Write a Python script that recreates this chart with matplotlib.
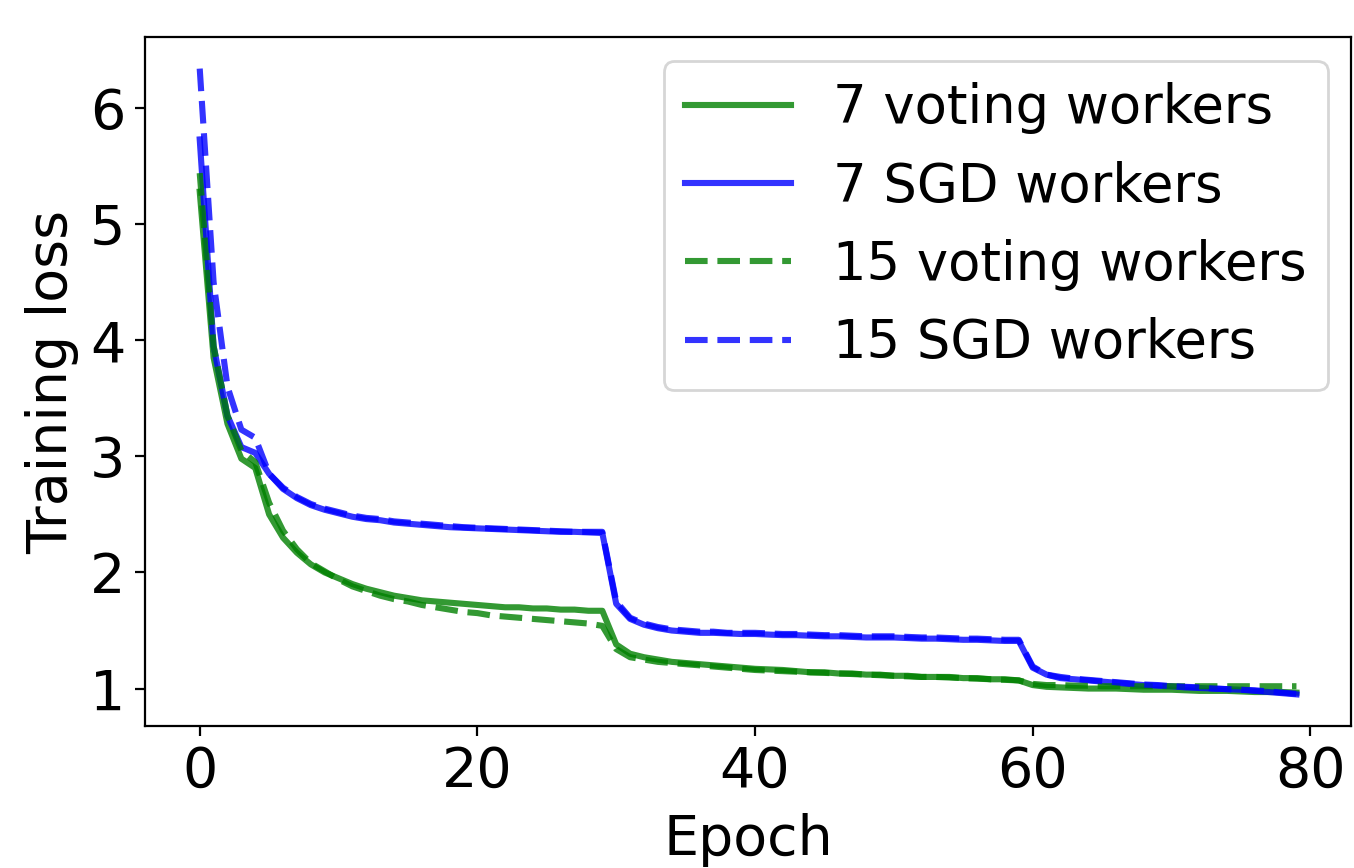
import numpy as np
import matplotlib
matplotlib.use("Agg")
import matplotlib.pyplot as plt

epochs = np.arange(80)

# 7 workers, signSGD with majority vote
vote7 = [5.28, 3.85, 3.28, 2.98, 2.90, 2.50, 2.30, 2.17, 2.07, 2.00,
         1.95, 1.90, 1.86, 1.83, 1.80, 1.78, 1.76, 1.75, 1.74, 1.73,
         1.72, 1.71, 1.70, 1.70, 1.69, 1.69, 1.68, 1.68, 1.67, 1.67,
         1.38, 1.30, 1.27, 1.25, 1.23, 1.22, 1.21, 1.20, 1.19, 1.18,
         1.17, 1.165, 1.16, 1.15, 1.14, 1.14, 1.13, 1.13, 1.12, 1.12,
         1.11, 1.11, 1.10, 1.10, 1.10, 1.09, 1.09, 1.08, 1.08, 1.07,
         1.03, 1.015, 1.01, 1.005, 1.0, 1.0, 1.0, 0.995, 0.99, 0.99,
         0.99, 0.985, 0.98, 0.98, 0.98, 0.975, 0.97, 0.97, 0.97, 0.965]

# 7 workers, plain SGD
sgd7 = [5.73, 3.95, 3.35, 3.08, 3.03, 2.85, 2.72, 2.64, 2.58, 2.54,
        2.51, 2.48, 2.46, 2.45, 2.43, 2.42, 2.41, 2.40, 2.39, 2.385,
        2.38, 2.375, 2.37, 2.365, 2.36, 2.355, 2.35, 2.35, 2.345, 2.34,
        1.73, 1.60, 1.55, 1.52, 1.50, 1.49, 1.48, 1.48, 1.475, 1.47,
        1.47, 1.465, 1.46, 1.46, 1.455, 1.45, 1.45, 1.445, 1.44, 1.44,
        1.44, 1.435, 1.43, 1.43, 1.425, 1.42, 1.42, 1.415, 1.41, 1.41,
        1.18, 1.12, 1.09, 1.08, 1.07, 1.06, 1.05, 1.04, 1.03, 1.025,
        1.02, 1.01, 1.005, 1.0, 0.995, 0.99, 0.98, 0.97, 0.96, 0.95]

# 15 workers, signSGD with majority vote
vote15 = [5.44, 3.95, 3.35, 3.05, 2.95, 2.60, 2.36, 2.20, 2.08, 2.01,
          1.94, 1.88, 1.84, 1.80, 1.77, 1.75, 1.72, 1.70, 1.68, 1.66,
          1.65, 1.63, 1.62, 1.61, 1.60, 1.59, 1.58, 1.57, 1.56, 1.54,
          1.34, 1.27, 1.25, 1.23, 1.22, 1.21, 1.20, 1.19, 1.18, 1.17,
          1.16, 1.155, 1.15, 1.145, 1.14, 1.135, 1.13, 1.125, 1.12, 1.115,
          1.11, 1.105, 1.10, 1.10, 1.095, 1.09, 1.085, 1.08, 1.075, 1.07,
          1.04, 1.03, 1.03, 1.025, 1.025, 1.02, 1.02, 1.02, 1.02, 1.02,
          1.02, 1.02, 1.02, 1.02, 1.02, 1.02, 1.02, 1.02, 1.02, 1.02]

# 15 workers, plain SGD
sgd15 = [6.34, 4.50, 3.60, 3.23, 3.16, 2.85, 2.73, 2.65, 2.59, 2.55,
         2.52, 2.49, 2.47, 2.46, 2.44, 2.43, 2.42, 2.41, 2.40, 2.39,
         2.385, 2.38, 2.375, 2.37, 2.365, 2.36, 2.355, 2.35, 2.35, 2.35,
         1.75, 1.61, 1.56, 1.53, 1.51, 1.50, 1.49, 1.49, 1.48, 1.48,
         1.48, 1.475, 1.47, 1.47, 1.465, 1.46, 1.46, 1.455, 1.45, 1.45,
         1.45, 1.445, 1.44, 1.44, 1.435, 1.43, 1.43, 1.425, 1.42, 1.42,
         1.19, 1.12, 1.10, 1.085, 1.075, 1.065, 1.055, 1.045, 1.035, 1.03,
         1.02, 1.015, 1.01, 1.0, 0.995, 0.99, 0.985, 0.975, 0.965, 0.955]

fig = plt.figure(figsize=(6.77, 4.34), dpi=200)
ax = fig.add_axes([0.107, 0.164, 0.891, 0.793])

lw = 2.2
ax.plot(epochs, vote7, color='g', alpha=0.8, lw=lw, label='7 voting workers')
ax.plot(epochs, sgd7, color='b', alpha=0.8, lw=lw, label='7 SGD workers')
ax.plot(epochs, vote15, color='g', alpha=0.8, lw=lw, ls='--', label='15 voting workers')
ax.plot(epochs, sgd15, color='b', alpha=0.8, lw=lw, ls='--', label='15 SGD workers')

ax.set_xticks([0, 20, 40, 60, 80])
ax.set_yticks([1, 2, 3, 4, 5, 6])
ax.tick_params(labelsize=20)
ax.set_xlabel('Epoch', fontsize=20, labelpad=5)
ax.set_ylabel('Training loss', fontsize=20, labelpad=4)
ax.legend(fontsize=19, loc='upper right', borderaxespad=0.45)

fig.savefig('out.png', dpi=200)
